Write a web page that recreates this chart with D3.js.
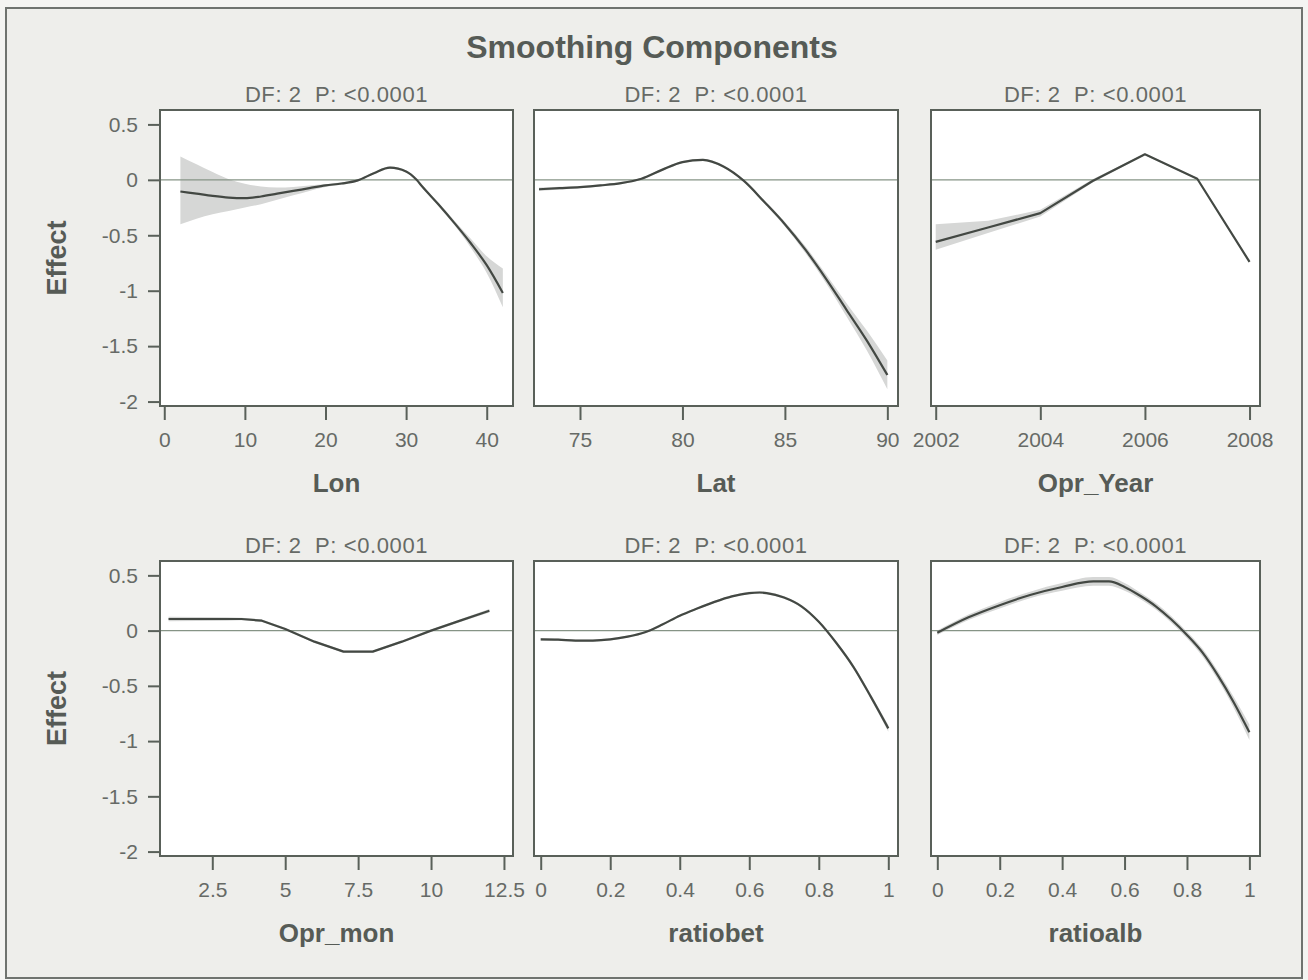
<!DOCTYPE html>
<html>
<head>
<meta charset="utf-8">
<script src="https://cdn.jsdelivr.net/npm/d3@7"></script>
<style>
  html, body { margin: 0; padding: 0; background: #ffffff; }
  svg { display: block; }
</style>
</head>
<body>
<svg id="chart" width="1308" height="980"></svg>
<script>
// ---- Shared effect axis ----
const effectTicks = [0.5, 0, -0.5, -1, -1.5, -2];
const effectTickLabels = ["0.5", "0", "-0.5", "-1", "-1.5", "-2"];
const effectDomain = [-2.04, 0.63];

const fitNote = "DF: 2  P: <0.0001";

// ---- Lon ----
const lonX   = [2, 4, 6, 8, 10, 12, 14, 16, 18, 20, 22, 24, 26, 28, 30, 31.3, 32, 34, 36, 38, 40, 42];
const lonEst = [-0.105, -0.125, -0.145, -0.16, -0.165, -0.15, -0.125, -0.1, -0.075, -0.05, -0.033, -0.005, 0.06, 0.11, 0.075, 0, -0.06, -0.22, -0.39, -0.57, -0.77, -1.02];
const lonLo  = [-0.40, -0.35, -0.31, -0.28, -0.25, -0.22, -0.18, -0.14, -0.10, -0.065, -0.045, -0.015, 0.05, 0.10, 0.065, -0.01, -0.07, -0.235, -0.41, -0.61, -0.84, -1.15];
const lonHi  = [0.21, 0.14, 0.07, 0.005, -0.035, -0.06, -0.07, -0.065, -0.05, -0.04, -0.022, 0.005, 0.07, 0.12, 0.085, 0.01, -0.05, -0.205, -0.37, -0.53, -0.69, -0.80];
const lonTicks = [0, 10, 20, 30, 40];

// ---- Lat ----
const latX   = [73, 74, 75, 76, 77, 78, 79, 80, 81, 82, 83, 84, 85, 86, 87, 88, 89, 90];
const latEst = [-0.085, -0.075, -0.065, -0.05, -0.03, 0.01, 0.09, 0.16, 0.18, 0.12, -0.01, -0.2, -0.4, -0.63, -0.89, -1.17, -1.45, -1.76];
const latHalf = [0.015, 0.012, 0.01, 0.01, 0.01, 0.01, 0.01, 0.01, 0.01, 0.01, 0.01, 0.015, 0.02, 0.03, 0.04, 0.06, 0.09, 0.13];
const latTicks = [75, 80, 85, 90];

// ---- Opr_Year ----
const yearX   = [2002, 2003, 2004, 2005, 2006, 2007, 2008];
const yearEst = [-0.56, -0.43, -0.30, -0.01, 0.23, 0.01, -0.74];
const yearLo  = [-0.63, -0.48, -0.33, -0.025, 0.222, 0.004, -0.746];
const yearHi  = [-0.40, -0.37, -0.27, 0.005, 0.238, 0.016, -0.734];
const yearTicks = [2002, 2004, 2006, 2008];

// ---- Opr_mon ----
const monX   = [1, 2, 3, 3.5, 4.2, 5, 6, 7, 8, 9, 10, 11, 12];
const monEst = [0.105, 0.105, 0.105, 0.105, 0.09, 0.015, -0.1, -0.19, -0.19, -0.1, 0.0, 0.09, 0.18];
const monHalf = [0.02, 0.018, 0.015, 0.012, 0.01, 0.01, 0.01, 0.01, 0.01, 0.01, 0.01, 0.012, 0.015];
const monTicks = [2.5, 5, 7.5, 10, 12.5];

// ---- ratiobet ----
const betX   = [0, 0.05, 0.1, 0.15, 0.2, 0.25, 0.3, 0.35, 0.4, 0.45, 0.5, 0.55, 0.6, 0.63, 0.65, 0.7, 0.75, 0.8, 0.85, 0.9, 0.95, 1.0];
const betEst = [-0.08, -0.082, -0.09, -0.09, -0.08, -0.055, -0.015, 0.055, 0.135, 0.2, 0.26, 0.31, 0.34, 0.345, 0.34, 0.3, 0.22, 0.08, -0.11, -0.33, -0.6, -0.885];
const betHalf = [0.012, 0.01, 0.01, 0.01, 0.01, 0.01, 0.01, 0.01, 0.01, 0.01, 0.01, 0.01, 0.012, 0.012, 0.012, 0.012, 0.012, 0.012, 0.015, 0.018, 0.022, 0.03];
const ratioTicks = [0, 0.2, 0.4, 0.6, 0.8, 1];

// ---- ratioalb ----
const albX   = [0, 0.1, 0.2, 0.3, 0.4, 0.5, 0.55, 0.6, 0.65, 0.7, 0.75, 0.8, 0.85, 0.9, 0.95, 1.0];
const albEst = [-0.02, 0.12, 0.23, 0.325, 0.395, 0.445, 0.445, 0.395, 0.315, 0.22, 0.1, -0.04, -0.2, -0.41, -0.65, -0.92];
const albHalf = [0.02, 0.025, 0.03, 0.03, 0.035, 0.04, 0.04, 0.035, 0.03, 0.03, 0.03, 0.03, 0.035, 0.04, 0.05, 0.07];

// ---- Page layout ----
const W = 1308, H = 980;
const cols = [{ x0: 160, x1: 513 }, { x0: 534, x1: 898 }, { x0: 931, x1: 1260 }];
const rows = [{ y0: 110, y1: 406 }, { y0: 561, y1: 856 }];

const fontFamily = "'Liberation Sans', Arial, Helvetica, sans-serif";
const textColor = "#565b56";
const tickColor = "#666a66";
const frameColor = "#596059";
const curveColor = "#434843";
const refColor = "#869486";
const bandColor = "#d6d7d6";

const zip = (xs, f) => xs.map((x, i) => f(x, i));

const panels = [
  { col: 0, row: 0, label: "Lon", domain: [-0.53, 43.26], ticks: lonTicks, fmt: d => String(d),
    pts: zip(lonX, (x, i) => ({ x, y: lonEst[i], lo: lonLo[i], hi: lonHi[i] })), curve: d3.curveMonotoneX },
  { col: 1, row: 0, label: "Lat", domain: [72.755, 90.52], ticks: latTicks, fmt: d => String(d),
    pts: zip(latX, (x, i) => ({ x, y: latEst[i], lo: latEst[i] - latHalf[i], hi: latEst[i] + latHalf[i] })), curve: d3.curveMonotoneX },
  { col: 2, row: 0, label: "Opr_Year", domain: [2001.91, 2008.2], ticks: yearTicks, fmt: d => String(d),
    pts: zip(yearX, (x, i) => ({ x, y: yearEst[i], lo: yearLo[i], hi: yearHi[i] })), curve: d3.curveLinear },
  { col: 0, row: 1, label: "Opr_mon", domain: [0.707, 12.81], ticks: monTicks, fmt: d => String(d),
    pts: zip(monX, (x, i) => ({ x, y: monEst[i], lo: monEst[i] - monHalf[i], hi: monEst[i] + monHalf[i] })), curve: d3.curveLinear },
  { col: 1, row: 1, label: "ratiobet", domain: [-0.0193, 1.0279], ticks: ratioTicks, fmt: d => String(d),
    pts: zip(betX, (x, i) => ({ x, y: betEst[i], lo: betEst[i] - betHalf[i], hi: betEst[i] + betHalf[i] })), curve: d3.curveMonotoneX },
  { col: 2, row: 1, label: "ratioalb", domain: [-0.0202, 1.034], ticks: ratioTicks, fmt: d => String(d),
    pts: zip(albX, (x, i) => ({ x, y: albEst[i], lo: albEst[i] - albHalf[i], hi: albEst[i] + albHalf[i] })), curve: d3.curveMonotoneX }
];

const svg = d3.select("#chart");

// Page background and outer frame
svg.append("rect").attr("x", 0).attr("y", 0).attr("width", W).attr("height", H).attr("fill", "#f4f4f2");
svg.append("rect").attr("x", 6).attr("y", 8).attr("width", 1296).attr("height", 970)
  .attr("fill", "#eeeeeb").attr("stroke", "#6f736f").attr("stroke-width", 2);

// Title
svg.append("text")
  .attr("x", 652).attr("y", 58)
  .attr("text-anchor", "middle")
  .attr("font-family", fontFamily).attr("font-weight", "bold").attr("font-size", 32)
  .attr("fill", textColor)
  .text("Smoothing Components");

panels.forEach(p => {
  const c = cols[p.col], r = rows[p.row];
  const x = d3.scaleLinear().domain(p.domain).range([c.x0, c.x1]);
  const y = d3.scaleLinear().domain(effectDomain).range([r.y1, r.y0]);
  const g = svg.append("g");

  // plot area
  g.append("rect").attr("x", c.x0).attr("y", r.y0)
    .attr("width", c.x1 - c.x0).attr("height", r.y1 - r.y0)
    .attr("fill", "#ffffff");

  // confidence band
  g.append("path").datum(p.pts)
    .attr("fill", bandColor)
    .attr("d", d3.area().x(d => x(d.x)).y0(d => y(d.lo)).y1(d => y(d.hi)).curve(p.curve));

  // zero reference
  g.append("line")
    .attr("x1", c.x0).attr("x2", c.x1).attr("y1", y(0)).attr("y2", y(0))
    .attr("stroke", refColor).attr("stroke-width", 1.4);

  // fitted component
  g.append("path").datum(p.pts)
    .attr("fill", "none").attr("stroke", curveColor).attr("stroke-width", 2.2)
    .attr("stroke-linejoin", "round")
    .attr("d", d3.line().x(d => x(d.x)).y(d => y(d.y)).curve(p.curve));

  // frame
  g.append("rect").attr("x", c.x0).attr("y", r.y0)
    .attr("width", c.x1 - c.x0).attr("height", r.y1 - r.y0)
    .attr("fill", "none").attr("stroke", frameColor).attr("stroke-width", 2);

  // x axis
  const xAxis = d3.axisBottom(x).tickValues(p.ticks).tickFormat(p.fmt).tickSize(14).tickSizeOuter(0).tickPadding(12);
  const xg = g.append("g").attr("transform", `translate(0,${r.y1})`).call(xAxis);
  xg.select(".domain").remove();
  xg.selectAll(".tick line").attr("stroke", frameColor).attr("stroke-width", 2);
  xg.selectAll(".tick text").attr("font-family", fontFamily).attr("font-size", 21).attr("fill", tickColor);

  // y axis on the first column only
  if (p.col === 0) {
    const yAxis = d3.axisLeft(y).tickValues(effectTicks)
      .tickFormat((d, i) => effectTickLabels[i]).tickSize(12).tickSizeOuter(0).tickPadding(10);
    const yg = g.append("g").attr("transform", `translate(${c.x0},0)`).call(yAxis);
    yg.select(".domain").remove();
    yg.selectAll(".tick line").attr("stroke", frameColor).attr("stroke-width", 2);
    yg.selectAll(".tick text").attr("font-family", fontFamily).attr("font-size", 21).attr("fill", tickColor);

    g.append("text")
      .attr("transform", `translate(66,${(r.y0 + r.y1) / 2}) rotate(-90)`)
      .attr("text-anchor", "middle")
      .attr("font-family", fontFamily).attr("font-weight", "bold").attr("font-size", 27)
      .attr("fill", textColor)
      .text("Effect");
  }

  // fit statistics above the panel
  g.append("text")
    .attr("x", (c.x0 + c.x1) / 2).attr("y", r.y0 - 8)
    .attr("text-anchor", "middle")
    .attr("font-family", fontFamily).attr("font-size", 22)
    .attr("letter-spacing", 0.6)
    .attr("fill", tickColor)
    .attr("xml:space", "preserve")
    .style("white-space", "pre")
    .text(fitNote);

  // axis title
  g.append("text")
    .attr("x", (c.x0 + c.x1) / 2).attr("y", r.y1 + 86)
    .attr("text-anchor", "middle")
    .attr("font-family", fontFamily).attr("font-weight", "bold").attr("font-size", 26)
    .attr("fill", textColor)
    .text(p.label);
});
</script>
</body>
</html>
